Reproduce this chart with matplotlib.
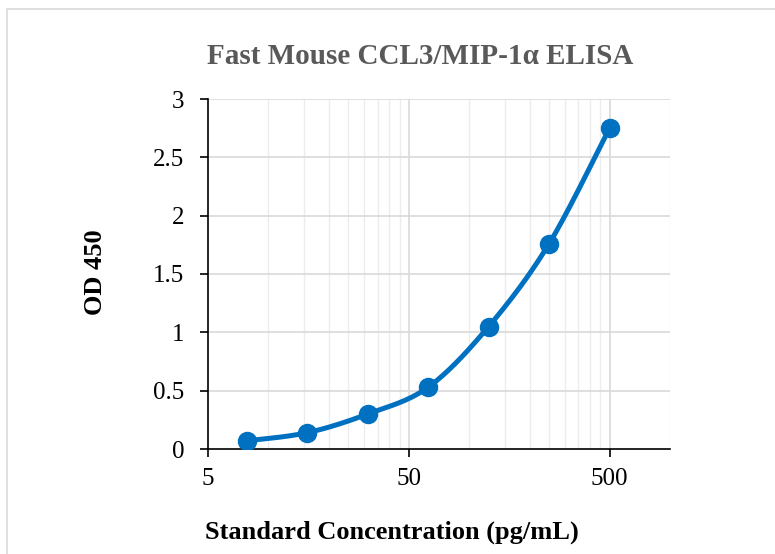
import numpy as np
import matplotlib.pyplot as plt
from matplotlib.patches import Rectangle

# datos de la curva estándar
conc = [7.8125, 15.625, 31.25, 62.5, 125, 250, 500]
od450 = [0.07, 0.14, 0.30, 0.53, 1.05, 1.76, 2.75]
titulo = "Fast Mouse CCL3/MIP-1α ELISA"
xlab = "Standard Concentration (pg/mL)"
ylab = "OD 450"
xticks = [5, 50, 500]
yticks = [0, 0.5, 1, 1.5, 2, 2.5, 3]
yticklabels = ["0", "0.5", "1", "1.5", "2", "2.5", "3"]

plt.rcParams['font.family'] = ['Liberation Serif', 'DejaVu Serif']


def suavizar(x, y, n=30):
    """Curva suavizada tipo Excel (Bezier / Catmull-Rom) en espacio log-x."""
    lx = np.log10(np.asarray(x, float))
    y = np.asarray(y, float)
    px = np.concatenate([[lx[0]], lx, [lx[-1]]])
    py = np.concatenate([[y[0]], y, [y[-1]]])
    xs, ys = [], []
    t = np.linspace(0, 1, n)
    for i in range(1, len(px) - 2):
        p0 = np.array([px[i], py[i]])
        p3 = np.array([px[i + 1], py[i + 1]])
        p1 = p0 + (np.array([px[i + 1], py[i + 1]]) - np.array([px[i - 1], py[i - 1]])) / 6
        p2 = p3 - (np.array([px[i + 2], py[i + 2]]) - np.array([px[i], py[i]])) / 6
        b = ((1 - t) ** 3)[:, None] * p0 + (3 * (1 - t) ** 2 * t)[:, None] * p1 \
            + (3 * (1 - t) * t ** 2)[:, None] * p2 + (t ** 3)[:, None] * p3
        xs.append(b[:, 0]); ys.append(b[:, 1])
    return 10 ** np.concatenate(xs), np.concatenate(ys)


fig = plt.figure(figsize=(7.75, 5.54), dpi=100)
fig.patches.append(Rectangle((7 / 775, -0.05), 1.1, 1 - 9 / 554 + 0.05, transform=fig.transFigure,
                             fill=False, edgecolor="#d9d9d9", linewidth=1.2))

ax = fig.add_axes([208 / 775, 1 - 449 / 554, (670 - 208) / 775, (449 - 99) / 554])
ax.set_xscale("log")
ax.set_xlim(5, 1000)
ax.set_ylim(0, 3)

# rejilla menor (pasos de 5, 50, 500)
menores = [5 * k for k in range(2, 10)] + [50 * k for k in range(2, 10)] + [1000]
for v in menores:
    ax.axvline(v, color="#ececec", linewidth=1, zorder=0)
for v in xticks[1:]:
    ax.axvline(v, color="#d9d9d9", linewidth=1.2, zorder=0)
for v in yticks[1:]:
    ax.axhline(v, color="#d9d9d9", linewidth=1.2, zorder=0)

xs, ys = suavizar(conc, od450)
ax.plot(xs, ys, color="#0070C0", linewidth=3.6, zorder=3, solid_capstyle="round")
ax.plot(conc, od450, "o", color="#0070C0", markersize=13, zorder=4)

ax.set_xticks(xticks)
ax.set_xticklabels([str(v) for v in xticks])
ax.xaxis.set_minor_locator(plt.NullLocator())
ax.set_yticks(yticks)
ax.set_yticklabels(yticklabels)
ax.tick_params(axis="both", labelsize=18, length=6, width=1.2, color="black", labelcolor="black")
ax.tick_params(axis="y", pad=11)
ax.tick_params(axis="x", pad=8)

for s in ["top", "right"]:
    ax.spines[s].set_visible(False)
for s in ["left", "bottom"]:
    ax.spines[s].set_linewidth(1.2)

fig.text(420 / 775, 1 - 56 / 554, titulo, ha="center", va="center", fontsize=21,
         fontweight="bold", color="#595959")
fig.text(392 / 775, 1 - 539 / 554, xlab, ha="center", va="baseline", fontsize=19,
         fontweight="bold", color="black")
fig.text(95 / 775, 1 - 272 / 554, ylab, ha="center", va="center", fontsize=19,
         fontweight="bold", color="black", rotation=90)

fig.savefig("out.png", dpi=100)
